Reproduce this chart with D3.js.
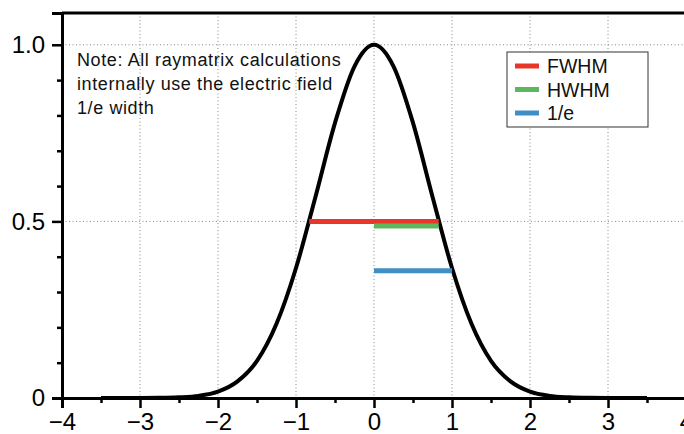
<!DOCTYPE html>
<html>
<head>
<meta charset="utf-8">
<script src="https://cdn.jsdelivr.net/npm/d3@7"></script>
<style>
  body { margin: 0; background: #fff; }
  svg { display: block; font-family: "Liberation Sans", Arial, Helvetica, sans-serif; }
</style>
</head>
<body>
<div id="chart"></div>
<script>
// curve
const curveX = [-3.5, -3.25, -3, -2.75, -2.5, -2.25, -2, -1.75, -1.5, -1.25, -1, -0.75, -0.5, -0.25,
  0, 0.25, 0.5, 0.75, 1, 1.25, 1.5, 1.75, 2, 2.25, 2.5, 2.75, 3, 3.25, 3.5];
const curveY = [0.000, 0.000, 0.0001, 0.0005, 0.002, 0.006, 0.018, 0.047, 0.105, 0.21, 0.368, 0.57, 0.779, 0.939,
  1.0, 0.939, 0.779, 0.57, 0.368, 0.21, 0.105, 0.047, 0.018, 0.006, 0.002, 0.0005, 0.0001, 0.000, 0.000];

// width markers
const widthNames = ["FWHM", "HWHM", "1/e"];
const widthColors = ["#e8372a", "#5cb85c", "#3f8fc4"];
const widthX0 = [-0.83, 0, 0];
const widthX1 = [0.83, 0.83, 1.0];
const widthY = [0.5, 0.487, 0.36];

const xTicks = [-4, -3, -2, -1, 0, 1, 2, 3, 4];
const yTicks = [0, 0.5, 1.0];
const yTickLabels = ["0", "0.5", "1.0"];
const note = ["Note: All raymatrix calculations", "internally use the electric field", "1/e width"];

const W = 684, H = 434;
const margin = {top: 13, left: 62, bottom: 36};

const x = d3.scaleLinear().domain([-4, 4]).range([margin.left, 686]);
const y = d3.scaleLinear().domain([0, 1.09]).range([H - margin.bottom, margin.top]);

const svg = d3.select("#chart").append("svg")
  .attr("width", W).attr("height", H);

// grid
svg.append("g").selectAll("line")
  .data(xTicks.slice(1, -1))
  .join("line")
  .attr("x1", d => x(d)).attr("x2", d => x(d))
  .attr("y1", y(1.09)).attr("y2", y(0))
  .attr("stroke", "#888").attr("stroke-width", 1).attr("stroke-dasharray", "1,2.5");
svg.append("g").selectAll("line")
  .data([0.5, 1.0])
  .join("line")
  .attr("x1", x(-4)).attr("x2", x(4))
  .attr("y1", d => y(d)).attr("y2", d => y(d))
  .attr("stroke", "#888").attr("stroke-width", 1).attr("stroke-dasharray", "1,2.5");

// axes
const xAxis = svg.append("g")
  .attr("transform", `translate(0,${y(0)})`)
  .call(d3.axisBottom(x).tickValues(xTicks).tickSize(10).tickPadding(5)
    .tickFormat(d => d < 0 ? "\u2212" + Math.abs(d) : d));
xAxis.select(".domain").attr("stroke-width", 3);
xAxis.selectAll(".tick line").attr("stroke-width", 2.5);
xAxis.selectAll("text").attr("font-size", 24).attr("fill", "#000")
  .attr("font-family", "Liberation Sans, Arial, sans-serif");
svg.append("g")
  .attr("transform", `translate(0,${y(0)})`)
  .call(d3.axisBottom(x).tickValues(d3.range(-3.5, 4, 1)).tickSize(5).tickFormat(""))
  .call(g => g.select(".domain").remove())
  .selectAll(".tick line").attr("stroke-width", 2.5);

const yAxis = svg.append("g")
  .attr("transform", `translate(${x(-4)},0)`)
  .call(d3.axisLeft(y).tickValues(yTicks).tickSize(10).tickPadding(7)
    .tickFormat((d, i) => yTickLabels[i]));
yAxis.select(".domain").attr("stroke-width", 3);
yAxis.selectAll(".tick line").attr("stroke-width", 2.5);
yAxis.selectAll("text").attr("font-size", 24).attr("fill", "#000")
  .attr("font-family", "Liberation Sans, Arial, sans-serif");
svg.append("g")
  .attr("transform", `translate(${x(-4)},0)`)
  .call(d3.axisLeft(y).tickValues([0.1, 0.2, 0.3, 0.4, 0.6, 0.7, 0.8, 0.9]).tickSize(5).tickFormat(""))
  .call(g => g.select(".domain").remove())
  .selectAll(".tick line").attr("stroke-width", 2.5);

// top frame
svg.append("line")
  .attr("x1", x(-4)).attr("x2", x(4))
  .attr("y1", y(1.09)).attr("y2", y(1.09))
  .attr("stroke", "#000").attr("stroke-width", 3);

// curve
const line = d3.line().x(d => x(d[0])).y(d => y(d[1])).curve(d3.curveMonotoneX);
svg.append("path")
  .datum(curveX.map((d, i) => [d, curveY[i]]))
  .attr("d", line)
  .attr("fill", "none").attr("stroke", "#000").attr("stroke-width", 4);

// width markers
svg.append("g").selectAll("line")
  .data(widthNames)
  .join("line")
  .attr("x1", (d, i) => x(widthX0[i])).attr("x2", (d, i) => x(widthX1[i]))
  .attr("y1", (d, i) => y(widthY[i])).attr("y2", (d, i) => y(widthY[i]))
  .attr("stroke", (d, i) => widthColors[i]).attr("stroke-width", 5);

// note
svg.append("g").selectAll("text")
  .data(note)
  .join("text")
  .attr("x", 77).attr("y", (d, i) => 66 + i * 24)
  .attr("font-size", 18).attr("letter-spacing", 0.6).attr("fill", "#111")
  .text(d => d);

// legend
const lg = svg.append("g").attr("transform", "translate(507,52)");
lg.append("rect").attr("width", 141).attr("height", 75)
  .attr("fill", "#fff").attr("stroke", "#333").attr("stroke-width", 1);
const item = lg.selectAll("g").data(widthNames).join("g")
  .attr("transform", (d, i) => `translate(0,${14 + i * 23.5})`);
item.append("line").attr("x1", 8).attr("x2", 32).attr("y1", 0).attr("y2", 0)
  .attr("stroke", (d, i) => widthColors[i]).attr("stroke-width", 5);
item.append("text").attr("x", 40).attr("y", 7).attr("font-size", 19.5).attr("fill", "#111")
  .text(d => d);
</script>
</body>
</html>
